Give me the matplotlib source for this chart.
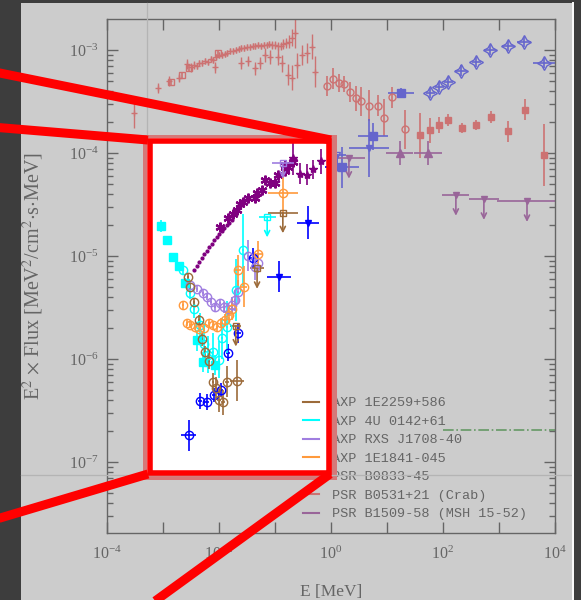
import numpy as np
import matplotlib
matplotlib.use('Agg')
import matplotlib.pyplot as plt
from matplotlib.patches import Rectangle, PathPatch
from matplotlib.path import Path
from matplotlib.lines import Line2D
from matplotlib.ticker import FixedLocator, FuncFormatter, LogLocator, NullLocator, NullFormatter

W, H = 581, 600
DPI = 100

plt.rcParams['font.family'] = 'serif'
plt.rcParams['font.serif'] = ['Liberation Serif', 'DejaVu Serif']
plt.rcParams['mathtext.fontset'] = 'stix'

# ---------------------------------------------------------------------------
# Spectral points, log10(E / MeV) and log10(E^2 F), errors in dex
# PSR B0531+21 (Crab)
crab_x_logE = [-3.52, -3.09, -2.89, -2.71, -2.57, -2.50, -2.45, -2.40, -2.35, -2.30, -2.25,
               -2.20, -2.15, -2.10, -2.05, -2.00, -1.95, -1.90, -1.85, -1.80, -1.75, -1.70,
               -1.65, -1.60, -1.55, -1.50, -1.45, -1.40, -1.35, -1.30, -1.25, -1.20, -1.15,
               -1.10, -1.05, -1.00, -0.95, -0.90, -0.85, -0.80, -0.75, -0.70, -0.64]
crab_x_logF = [-3.61, -3.37, -3.30, -3.27, -3.14, -3.17, -3.15, -3.16, -3.13, -3.13, -3.11,
               -3.12, -3.09, -3.10, -3.07, -3.05, -3.05, -3.04, -3.03, -3.01, -3.01, -3.00,
               -2.99, -2.98, -2.98, -2.97, -2.97, -2.96, -2.96, -2.95, -2.96, -2.95, -2.95,
               -2.94, -2.95, -2.95, -2.96, -2.96, -2.94, -2.93, -2.92, -2.88, -2.84]
crab_x_dF = [0.15, 0.05, 0.05, 0.04, 0.05, 0.04, 0.04, 0.03, 0.03, 0.03, 0.03,
             0.03, 0.03, 0.03, 0.03, 0.03, 0.03, 0.03, 0.03, 0.03, 0.03, 0.03,
             0.03, 0.03, 0.03, 0.03, 0.03, 0.03, 0.03, 0.03, 0.03, 0.03, 0.03,
             0.03, 0.04, 0.04, 0.04, 0.04, 0.05, 0.05, 0.06, 0.08, 0.14]
crab_sq_logE = [-2.86, -2.66, -2.54, -2.02]
crab_sq_logF = [-3.31, -3.24, -3.18, -3.03]
crab_lo_logE = [-2.07, -1.61, -1.48, -1.36, -1.27, -1.18, -1.09, -0.95, -0.88, -0.77,
                -0.70, -0.61, -0.52, -0.43, -0.34, -0.29]
crab_lo_logF = [-3.17, -3.13, -3.11, -3.18, -3.13, -3.05, -3.07, -3.07, -3.13, -3.24,
                -3.27, -3.15, -3.05, -3.03, -2.97, -3.21]
crab_lo_dF = [0.05, 0.06, 0.05, 0.06, 0.06, 0.07, 0.07, 0.08, 0.08, 0.10,
              0.12, 0.12, 0.10, 0.10, 0.12, 0.15]
crab_ct_logE = [-0.07, 0.04, 0.14, 0.23, 0.34, 0.45, 0.54, 0.68, 0.84, 0.95, 1.09, 1.32]
crab_ct_logF = [-3.35, -3.28, -3.32, -3.33, -3.41, -3.47, -3.50, -3.54, -3.54, -3.66, -3.46, -3.77]
crab_ct_dF = [0.10, 0.10, 0.09, 0.08, 0.10, 0.12, 0.14, 0.15, 0.10, 0.18, 0.10, 0.19]
crab_eg_logE = [1.59, 1.77, 1.93, 2.09, 2.34, 2.59, 2.86, 3.16, 3.46, 3.80]
crab_eg_logF = [-3.83, -3.78, -3.73, -3.68, -3.76, -3.73, -3.65, -3.79, -3.58, -4.02]
crab_eg_dF = [0.22, 0.12, 0.08, 0.06, 0.05, 0.05, 0.06, 0.10, 0.10, 0.30]

# PSR B0833-45 (Vela)
vela_lo_logE = [-2.54, -2.34, -2.21, -2.09, -1.96, -1.84, -1.66, -1.39]
vela_lo_logF = [-6.74, -6.41, -6.42, -6.35, -6.30, -5.94, -5.75, -5.02]
vela_lo_dF = [0.15, 0.08, 0.08, 0.07, 0.07, 0.08, 0.10, 0.10]
vela_lo_dE = [0.13, 0.04, 0.04, 0.04, 0.04, 0.04, 0.05, 0.05]
vela_tri_logE = [-0.93, -0.41, 0.68]
vela_tri_logF = [-5.20, -4.68, -3.95]
vela_tri_dE = [0.22, 0.20, 0.35]
vela_tri_dF = [0.15, 0.16, 0.28]
vela_sq_logE = [0.20, 0.75, 1.25]
vela_sq_logF = [-4.14, -3.84, -3.42]
vela_sq_dE = [0.30, 0.26, 0.24]
vela_sq_dF = [0.20, 0.13, 0.05]
vela_ul_logE = [0.11]
vela_ul_logF = [-4.02]
vela_st_logE = [1.77, 1.93, 2.09, 2.32, 2.59, 2.84, 3.16, 3.45, 3.80]
vela_st_logF = [-3.42, -3.36, -3.31, -3.20, -3.12, -3.00, -2.96, -2.92, -3.13]
vela_st_dE = [0.08, 0.08, 0.08, 0.10, 0.08, 0.10, 0.10, 0.12, 0.20]

# PSR B1509-58 (MSH 15-52)
b1509_dot_logE = [-2.45, -2.40, -2.36, -2.31, -2.27, -2.22, -2.18, -2.13, -2.09, -2.04,
                  -2.00, -1.95, -1.91, -1.86, -1.82, -1.77]
b1509_dot_logF = [-5.14, -5.10, -5.06, -5.02, -4.98, -4.95, -4.91, -4.88, -4.85, -4.82,
                  -4.79, -4.76, -4.73, -4.70, -4.68, -4.65]
b1509_ast_logE = [-1.98, -1.84, -1.75, -1.68, -1.63, -1.57, -1.48, -1.36, -1.32, -1.23,
                  -1.18, -1.09, -1.00, -0.95, -0.82, -0.77, -0.68, -0.82]
b1509_ast_logF = [-4.72, -4.63, -4.59, -4.55, -4.50, -4.48, -4.44, -4.44, -4.39, -4.36,
                  -4.26, -4.29, -4.29, -4.21, -4.18, -4.14, -4.09, -4.12]
b1509_hi_logE = [-0.68, -0.55, -0.43, -0.32, -0.18]
b1509_hi_logF = [-4.05, -4.20, -4.21, -4.16, -4.08]
b1509_hi_dF = [0.16, 0.10, 0.10, 0.09, 0.12]
b1509_tri_logE = [1.23, 1.73]
b1509_tri_logF = [-4.00, -4.00]
b1509_tri_dE = [0.24, 0.25]
b1509_ul_logE = [0.32, 2.23, 2.73, 3.50]
b1509_ul_logF = [-4.05, -4.41, -4.45, -4.47]
b1509_ul_dE = [0.28, 0.24, 0.27, 0.54]

# AXP 4U 0142+61
u0142_sq_logE = [-3.04, -2.93, -2.82, -2.71, -2.61, -2.39, -2.29, -2.07]
u0142_sq_logF = [-4.71, -4.85, -5.01, -5.10, -5.26, -5.82, -6.03, -6.06]
u0142_sq_dF = [0.06, 0.04, 0.04, 0.04, 0.05, 0.10, 0.10, 0.10]
u0142_logE = [-2.64, -2.52, -2.45, -2.34, -2.27, -2.20, -2.11, -2.00, -1.95, -1.86, -1.70, -1.57]
u0142_logF = [-5.14, -5.36, -5.52, -5.67, -5.86, -5.96, -5.93, -6.01, -5.80, -5.69, -5.33, -4.94]
u0142_dF = [0.04, 0.06, 0.08, 0.12, 0.15, 0.18, 0.18, 0.18, 0.20, 0.25, 0.30, 0.35]
u0142_ul_logE = [-1.14]
u0142_ul_logF = [-4.62]

# AXP RXS J1708-40
rxs_logE = [-2.52, -2.39, -2.29, -2.21, -2.14, -2.07, -1.98, -1.91, -1.84, -1.77,
            -1.71, -1.66, -1.48, -1.36, -1.30]
rxs_logF = [-5.28, -5.32, -5.36, -5.40, -5.45, -5.50, -5.46, -5.50, -5.52, -5.48,
            -5.43, -5.35, -5.00, -5.11, -5.07]
rxs_dF = [0.03, 0.03, 0.03, 0.03, 0.03, 0.04, 0.04, 0.05, 0.06, 0.08,
          0.10, 0.12, 0.15, 0.12, 0.10]
rxs_ul_logE = [-0.86]
rxs_ul_logF = [-4.10]

# AXP 1E1841-045
e1841_logE = [-2.64, -2.57, -2.52, -2.43, -2.36, -2.27, -2.18, -2.11, -2.04, -1.96,
              -1.89, -1.82, -1.77, -1.66, -1.55, -1.30, -0.86]
e1841_logF = [-5.48, -5.65, -5.67, -5.69, -5.71, -5.70, -5.65, -5.67, -5.69, -5.65,
              -5.62, -5.57, -5.52, -5.14, -5.30, -4.98, -4.39]
e1841_dF = [0.04, 0.03, 0.03, 0.03, 0.03, 0.03, 0.03, 0.04, 0.04, 0.05,
            0.06, 0.08, 0.10, 0.15, 0.20, 0.12, 0.23]
e1841_dE = [0.02, 0.02, 0.02, 0.02, 0.02, 0.02, 0.02, 0.02, 0.02, 0.02,
            0.03, 0.03, 0.03, 0.05, 0.05, 0.08, 0.27]

# AXP 1E2259+586
e2259_logE = [-2.55, -2.52, -2.45, -2.36, -2.30, -2.25, -2.18, -2.11, -2.05, -2.00,
              -1.93, -1.86, -1.68]
e2259_logF = [-5.20, -5.30, -5.45, -5.62, -5.81, -5.93, -6.02, -6.22, -6.28, -6.40,
              -6.42, -6.22, -6.21]
e2259_dF = [0.03, 0.03, 0.04, 0.05, 0.06, 0.06, 0.08, 0.08, 0.10, 0.12,
            0.12, 0.15, 0.20]
e2259_dE = [0.02, 0.02, 0.02, 0.02, 0.02, 0.02, 0.02, 0.02, 0.02, 0.03,
            0.03, 0.04, 0.13]
e2259_ul_logE = [-1.70, -1.32, -0.86]
e2259_ul_logF = [-5.68, -5.12, -4.58]
e2259_ul_dE = [0.10, 0.12, 0.27]

labels = ['AXP 1E2259+586', 'AXP 4U 0142+61', 'AXP RXS J1708-40', 'AXP 1E1841-045',
          'PSR B0833-45', 'PSR B0531+21 (Crab)', 'PSR B1509-58 (MSH 15-52)']
colors = ['#9c6b3a', '#00ffff', '#a07ee0', '#ff9a3c', '#0000ff', '#ff2020', '#800080']
C2259, C0142, CRXS, C1841, CVELA, CCRAB, C1509 = colors

# diagnostic level (dash-dot)
sens_logE = [2.0, 4.0]
sens_logF = [-6.69, -6.69]


def lin(v):
    return 10.0 ** np.asarray(v, dtype=float)


def pts(ax, logE, logF, dF=0.0, dE=0.0, **kw):
    E, F = lin(logE), lin(logF)
    dF = np.broadcast_to(np.asarray(dF, float), F.shape)
    dE = np.broadcast_to(np.asarray(dE, float), E.shape)
    yerr = [F - F / lin(dF), F * lin(dF) - F]
    xerr = [E - E / lin(dE), E * lin(dE) - E]
    kw.setdefault('elinewidth', 1.2)
    kw.setdefault('capsize', 0)
    ax.errorbar(E, F, xerr=xerr, yerr=yerr, linestyle='none', **kw)


def ulim(ax, logE, logF, dE, color, drop=0.2, marker='s', ms=5, mfc='none'):
    pts(ax, logE, logF, dE=dE, color=color, marker=marker, ms=ms, mfc=mfc, mec=color)
    for e, f in zip(lin(logE), lin(logF)):
        ax.annotate('', xy=(e, f / 10 ** drop), xytext=(e, f),
                    arrowprops=dict(arrowstyle='->', color=color, lw=1.2,
                                    shrinkA=0, shrinkB=0, mutation_scale=9))


def px_rect(x0, y0, x1, y1):
    # pixel box (top-left origin) -> figure fraction vertices
    return [(x0 / W, 1 - y0 / H), (x1 / W, 1 - y0 / H), (x1 / W, 1 - y1 / H),
            (x0 / W, 1 - y1 / H), (x0 / W, 1 - y0 / H)]


fig = plt.figure(figsize=(W / DPI, H / DPI), dpi=DPI, facecolor='#3d3d3d')
fig.add_artist(Rectangle((21 / W, 0), (572 - 21) / W, 1 - 3 / H, transform=fig.transFigure,
                         fc='white', ec='none', zorder=-10))

ax = fig.add_axes([107 / W, 1 - 533 / H, 448 / W, 514 / H])
ax.set_facecolor('white')
ax.set_xscale('log')
ax.set_yscale('log')
ax.set_xlim(1e-4, 1e4)
ax.set_ylim(10 ** -7.69, 10 ** -2.70)

# Crab
pts(ax, crab_x_logE, crab_x_logF, crab_x_dF, color=CCRAB, marker='+', ms=5, elinewidth=1.0)
pts(ax, crab_sq_logE, crab_sq_logF, 0.03, color=CCRAB, marker='s', ms=5, mfc='none')
pts(ax, crab_lo_logE, crab_lo_logF, crab_lo_dF, color=CCRAB, marker='+', ms=5, elinewidth=1.0)
pts(ax, crab_ct_logE, crab_ct_logF, crab_ct_dF, color=CCRAB, marker='o', ms=5, mfc='none')
pts(ax, crab_eg_logE, crab_eg_logF, crab_eg_dF, color=CCRAB, marker='s', ms=4)

# Vela
pts(ax, vela_lo_logE, vela_lo_logF, vela_lo_dF, vela_lo_dE, color=CVELA, marker='o', ms=6, mfc='none')
pts(ax, vela_tri_logE, vela_tri_logF, vela_tri_dF, vela_tri_dE, color=CVELA, marker='v', ms=5)
pts(ax, vela_sq_logE, vela_sq_logF, vela_sq_dF, vela_sq_dE, color=CVELA, marker='s', ms=6)
ulim(ax, vela_ul_logE, vela_ul_logF, 0.15, CVELA, drop=0.17, marker='v')
pts(ax, vela_st_logE, vela_st_logF, 0.05, vela_st_dE, color=CVELA, marker=(4, 1, 0), ms=10, mfc='none')

# B1509-58
ax.plot(lin(b1509_dot_logE), lin(b1509_dot_logF), linestyle='none', marker='o', ms=2, color=C1509)
ax.plot(lin(b1509_ast_logE), lin(b1509_ast_logF), linestyle='none', marker=(6, 2, 0), ms=7,
        mew=1.6, color=C1509)
pts(ax, b1509_hi_logE, b1509_hi_logF, b1509_hi_dF, 0.04, color=C1509, marker='*', ms=6)
pts(ax, b1509_tri_logE, b1509_tri_logF, 0.12, b1509_tri_dE, color=C1509, marker='^', ms=6)
ulim(ax, b1509_ul_logE, b1509_ul_logF, b1509_ul_dE, C1509, drop=0.2, marker='v', mfc=C1509)

# AXPs
pts(ax, u0142_sq_logE, u0142_sq_logF, u0142_sq_dF, color=C0142, marker='s', ms=6)
pts(ax, u0142_logE, u0142_logF, u0142_dF, 0.02, color=C0142, marker='o', ms=6, mfc='none')
ulim(ax, u0142_ul_logE, u0142_ul_logF, 0.15, C0142, drop=0.2)
pts(ax, rxs_logE, rxs_logF, rxs_dF, 0.02, color=CRXS, marker='o', ms=6, mfc='none')
ulim(ax, rxs_ul_logE, rxs_ul_logF, 0.2, CRXS, drop=0.15)
pts(ax, e1841_logE, e1841_logF, e1841_dF, e1841_dE, color=C1841, marker='o', ms=6, mfc='none')
pts(ax, e2259_logE, e2259_logF, e2259_dF, e2259_dE, color=C2259, marker='o', ms=6, mfc='none')
ulim(ax, e2259_ul_logE, e2259_ul_logF, e2259_ul_dE, C2259, drop=0.2)

ax.plot(lin(sens_logE), lin(sens_logF), color='green', lw=1.2, linestyle='-.')

# axes styling
ax.xaxis.set_major_locator(FixedLocator(10.0 ** np.arange(-4, 5)))
ax.xaxis.set_major_formatter(FuncFormatter(
    lambda v, p: r'$\mathdefault{10^{%d}}$' % round(np.log10(v)) if round(np.log10(v)) % 2 == 0 else ''))
ax.xaxis.set_minor_locator(NullLocator())
ax.yaxis.set_major_locator(FixedLocator(10.0 ** np.arange(-8, -2)))
ax.yaxis.set_major_formatter(FuncFormatter(lambda v, p: r'$\mathdefault{10^{%d}}$' % round(np.log10(v))))
ax.yaxis.set_minor_locator(LogLocator(base=10, subs=np.arange(2, 10), numticks=20))
ax.yaxis.set_minor_formatter(NullFormatter())
ax.tick_params(which='both', direction='in', top=True, right=True, width=1.0)
ax.tick_params(which='major', length=8, labelsize=11.5)
ax.tick_params(axis='x', which='major', pad=9)
ax.tick_params(axis='y', which='major', pad=6)
ax.tick_params(which='minor', length=4)
for s in ax.spines.values():
    s.set_linewidth(1.0)

handles = [Line2D([], [], color=c, lw=1.5) for c in colors]
ax.legend(handles, labels, loc='upper left', bbox_to_anchor=(303 / W, 1 - 397 / H),
          bbox_transform=fig.transFigure, frameon=False, borderpad=0, borderaxespad=0,
          handlelength=1.2, handletextpad=0.95, labelspacing=0.45,
          prop={'family': 'Liberation Mono', 'size': 9.7})

fig.text(33 / W, 1 - 276 / H, r'E$^2$ $\times$ Flux [MeV$^2$/cm$^2$$\cdot$s$\cdot$MeV]',
         rotation=90, ha='center', va='center', fontsize=14.5)
fig.text(331 / W, 1 - 592 / H, 'E [MeV]', ha='center', va='center', fontsize=12.5)

# dimming layer with the zoom window cut out
codes = [Path.MOVETO, Path.LINETO, Path.LINETO, Path.LINETO, Path.CLOSEPOLY]
outer = px_rect(21, 3, 572, 600)
hole = px_rect(147, 138, 331, 475)[::-1]
dim = PathPatch(Path(outer + hole, codes + codes), transform=fig.transFigure,
                fc=(2 / 3, 2 / 3, 2 / 3), alpha=0.6, ec='none', zorder=20)
fig.add_artist(dim)

halo_out = px_rect(143, 135, 337, 480)
halo_in = px_rect(147, 138, 331, 475)[::-1]
fig.add_artist(PathPatch(Path(halo_out + halo_in, codes + codes), transform=fig.transFigure,
                         fc='#d67878', ec='none', zorder=22))

# guide lines
fig.add_artist(Line2D([21 / W, 572 / W], [1 - 475 / H] * 2, color='#b4b4b4', lw=0.9, zorder=24))
fig.add_artist(Line2D([147 / W] * 2, [1 - 3 / H, 1 - 138 / H], color='#b4b4b4', lw=0.9, zorder=24))
fig.add_artist(Line2D([573 / W] * 2, [0, 1 - 3 / H], color='white', lw=1.4, zorder=24))

# zoom frame
fig.add_artist(Rectangle((149.5 / W, 1 - 472.5 / H), (328.5 - 149.5) / W, (472.5 - 141) / H,
                         transform=fig.transFigure, fc='none', ec='#ff0000', lw=4.0, zorder=30))
zoom_lines = [((-20, 69), (331, 140)), ((-20, 126), (148, 140)),
              ((-20, 524), (148, 474)), ((330, 474), (140, 612))]
for (x0, y0), (x1, y1) in zoom_lines:
    fig.add_artist(Line2D([x0 / W, x1 / W], [1 - y0 / H, 1 - y1 / H], color='#ff0000',
                          lw=6.5, solid_capstyle='butt', zorder=31))

fig.savefig('out.png', dpi=DPI, facecolor=fig.get_facecolor())
